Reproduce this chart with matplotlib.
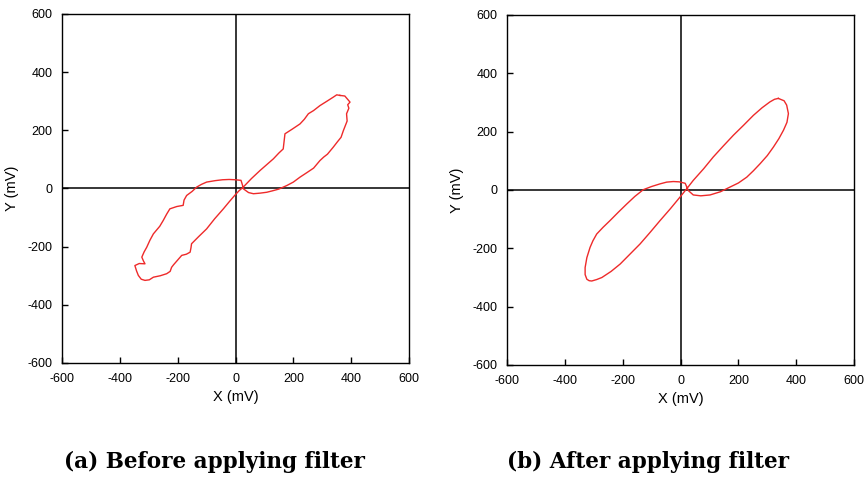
import matplotlib
matplotlib.use("Agg")
import matplotlib.pyplot as plt

# Lissajous-style X/Y traces (mV), read point by point
raw_x = [361, 378, 396, 388, 392, 384, 386, 373, 365, 352, 338, 318, 305, 292, 270, 246, 223, 200,
         177, 150, 128, 108, 85, 62, 45, 27, 24, 19, 0, -22, -45, -70, -100, -118, -134, -150,
         -169, -178, -181, -203, -227, -238, -250, -262, -284, -296, -307, -316, -324, -318,
         -313, -333, -348, -342, -336, -326, -313, -298, -284, -260, -238, -226, -221, -214,
         -186, -170, -157, -154, -152, -128, -100, -72, -42, -22, -3, 12, 26, 55, 85, 108, 131,
         150, 165, 168, 171, 196, 223, 238, 252, 270, 292, 316, 338, 350, 361]
raw_y = [320, 318, 297, 288, 276, 257, 232, 199, 176, 160, 142, 118, 108, 96, 70, 54, 39, 22,
         10, -2, -8, -13, -16, -18, -14, -1, 12, 28, 30, 31, 30, 27, 22, 14, 5, -10,
         -24, -40, -58, -62, -70, -88, -110, -130, -156, -178, -202, -218, -236, -250,
         -259, -258, -265, -284, -299, -312, -316, -314, -305, -300, -293, -285, -271, -262,
         -230, -226, -219, -204, -190, -166, -139, -104, -70, -46, -24, -8, 4, 34, 62, 82, 102,
         122, 136, 162, 188, 204, 222, 238, 257, 268, 285, 300, 314, 322, 320]

filt_x = [338, 358, 367, 373, 368, 356, 340, 321, 300, 275, 252, 229, 200, 171, 138, 102, 70, 44,
          27, 16, -5, -25, -48, -71, -100, -129, -158, -186, -215, -244, -268, -290, -303, -313,
          -324, -330, -330, -324, -316, -307, -290, -272, -240, -209, -175, -140, -105, -71,
          -35, 0, 22, 44, 80, 113, 148, 183, 218, 252, 282, 309, 325, 338]
filt_y = [314, 306, 291, 262, 232, 205, 176, 147, 118, 90, 66, 44, 24, 10, -6, -17, -20, -17,
          -2, 23, 28, 29, 27, 21, 12, 1, -22, -48, -76, -105, -128, -151, -174, -197,
          -232, -266, -290, -306, -311, -312, -307, -300, -279, -254, -220, -185, -145, -105,
          -64, -22, 5, 33, 73, 113, 151, 188, 222, 256, 282, 302, 311, 314]

ticks = [-600, -400, -200, 0, 200, 400, 600]
captions = ["(a) Before applying filter", "(b) After applying filter"]

plt.rcParams["font.family"] = ["Liberation Sans", "DejaVu Sans"]
plt.rcParams["axes.unicode_minus"] = False

fig = plt.figure(figsize=(8.66, 4.79), dpi=100)
ax1 = fig.add_axes([0.0716, 0.2422, 0.4007, 0.7286])
ax2 = fig.add_axes([0.5855, 0.2380, 0.4007, 0.7307])

for ax, xs, ys in [(ax1, raw_x, raw_y), (ax2, filt_x, filt_y)]:
    ax.axhline(0, color="black", lw=1.1, zorder=1)
    ax.axvline(0, color="black", lw=1.1, zorder=1)
    ax.plot(xs, ys, color="#ee2a2a", lw=1.0, zorder=2)
    ax.set_xlim(-600, 600)
    ax.set_ylim(-600, 600)
    ax.set_xticks(ticks)
    ax.set_yticks(ticks)
    ax.tick_params(direction="in", length=4, width=1, labelsize=9, pad=7,
                   top=False, right=False)
    ax.tick_params(axis="x", pad=7.5)
    for s in ax.spines.values():
        s.set_linewidth(1.0)
    ax.set_xlabel("X (mV)", fontsize=10.5, labelpad=3)
    ax.set_ylabel("Y (mV)", fontsize=10.5, labelpad=6)

fig.text(0.248, 0.022, captions[0], ha="center", va="baseline", fontsize=15.5,
         fontweight="bold", family="DejaVu Serif")
fig.text(0.748, 0.022, captions[1], ha="center", va="baseline", fontsize=15.5,
         fontweight="bold", family="DejaVu Serif")

fig.savefig("out.png", dpi=100)
